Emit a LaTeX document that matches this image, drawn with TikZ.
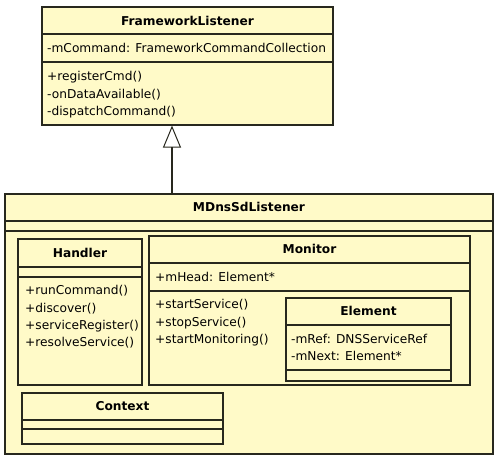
\documentclass[tikz,border=0pt]{standalone}
\usepackage{fontspec}
\setmainfont{DejaVu Sans}
\usetikzlibrary{arrows.meta}
\definecolor{umlyellow}{RGB}{255,250,200}
\definecolor{umlline}{RGB}{40,40,30}
\tikzset{
  classbox/.style={draw=umlline, fill=umlyellow, line width=1.1pt, inner sep=0pt},
  sep/.style={draw=umlline, line width=1.1pt},
  title/.style={anchor=base, inner sep=0pt, font=\fontsize{12.2}{14}\selectfont\bfseries},
  member/.style={anchor=base west, inner sep=0pt, font=\fontsize{12.2}{14}\selectfont}
}
\begin{document}
\begin{tikzpicture}[x=1pt, y=-1pt]
\useasboundingbox[fill=white] (0,0) rectangle (501,459);

% FrameworkListener
\node[classbox, minimum width=291pt, minimum height=118pt] (FL) at (187.5,66) {};
\draw[sep] (FL.west |- 0,34) -- (FL.east |- 0,34);
\draw[sep] (FL.west |- 0,62) -- (FL.east |- 0,62);
\node[title] (FLname) at (187.5,25.5) {FrameworkListener};
\node[member] (FLa1) at (47,52.5) {-mCommand: FrameworkCommandCollection};
\node[member] (FLm1) at (47,80.5) {+registerCmd()};
\node[member] (FLm2) at (47,98) {-onDataAvailable()};
\node[member] (FLm3) at (47,115.5) {-dispatchCommand()};

% MDnsSdListener
\node[classbox, minimum width=488pt, minimum height=260pt] (MD) at (249,324) {};
\draw[sep] (MD.west |- 0,221) -- (MD.east |- 0,221);
\draw[sep] (MD.west |- 0,231) -- (MD.east |- 0,231);
\node[title] (MDname) at (249,211) {MDnsSdListener};

% inheritance
\draw[sep, -{Triangle[open, width=18pt, length=22pt, line width=1pt]}] (MD.north -| 172,0) -- (FL.south -| 172,0);

% Handler
\node[classbox, minimum width=124pt, minimum height=146pt] (HD) at (80,312) {};
\draw[sep] (HD.west |- 0,267) -- (HD.east |- 0,267);
\draw[sep] (HD.west |- 0,277) -- (HD.east |- 0,277);
\node[title] (HDname) at (80,257) {Handler};
\node[member] (HDm1) at (25,294.5) {+runCommand()};
\node[member] (HDm2) at (25,312) {+discover()};
\node[member] (HDm3) at (25,329) {+serviceRegister()};
\node[member] (HDm4) at (25,346.5) {+resolveService()};

% Monitor
\node[classbox, minimum width=321pt, minimum height=149pt] (MO) at (309.5,310.5) {};
\draw[sep] (MO.west |- 0,263) -- (MO.east |- 0,263);
\draw[sep] (MO.west |- 0,291) -- (MO.east |- 0,291);
\node[title] (MOname) at (309.5,253.5) {Monitor};
\node[member] (MOa1) at (155,281.5) {+mHead: Element*};
\node[member] (MOm1) at (155,308.5) {+startService()};
\node[member] (MOm2) at (155,326) {+stopService()};
\node[member] (MOm3) at (155,343) {+startMonitoring()};

% Element
\node[classbox, minimum width=165pt, minimum height=83pt] (EL) at (368.5,339.5) {};
\draw[sep] (EL.west |- 0,325) -- (EL.east |- 0,325);
\draw[sep] (EL.west |- 0,370) -- (EL.east |- 0,370);
\node[title] (ELname) at (368.5,315.5) {Element};
\node[member] (ELa1) at (291,343) {-mRef: DNSServiceRef};
\node[member] (ELa2) at (291,360) {-mNext: Element*};

% Context
\node[classbox, minimum width=201pt, minimum height=51pt] (CT) at (122.5,418.5) {};
\draw[sep] (CT.west |- 0,420) -- (CT.east |- 0,420);
\draw[sep] (CT.west |- 0,429) -- (CT.east |- 0,429);
\node[title] (CTname) at (122.5,410.5) {Context};
\end{tikzpicture}
\end{document}
